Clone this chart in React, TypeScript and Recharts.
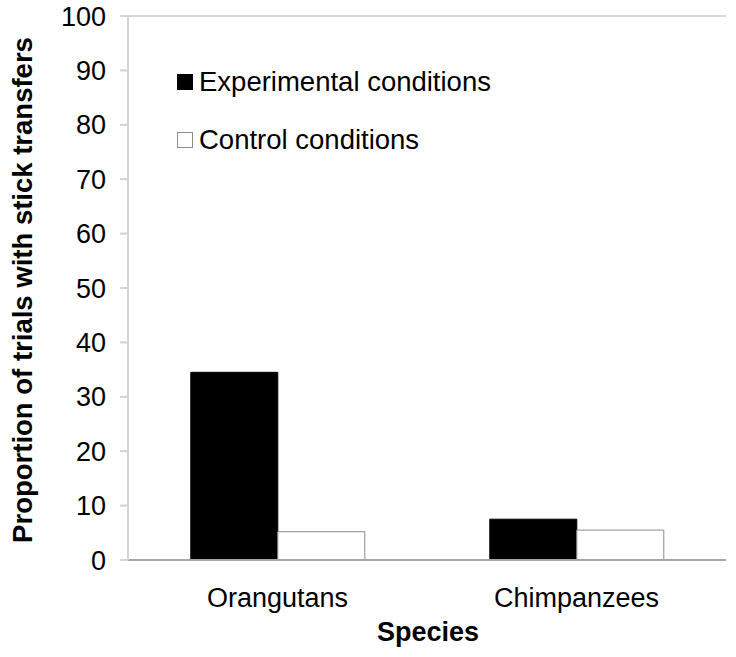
import { Bar, BarChart, Label, Legend, ReferenceLine, XAxis, YAxis } from "recharts";

const species = ["Orangutans", "Chimpanzees"];
const experimental = [34.5, 7.5];
const control = [5.2, 5.5];
const yTicks = [0, 10, 20, 30, 40, 50, 60, 70, 80, 90, 100];
const seriesNames = ["Experimental conditions", "Control conditions"];

const data = species.map((name, i) => ({
  name,
  experimental: experimental[i],
  control: control[i],
}));

const FONT = "'Liberation Sans', Arial, sans-serif";
const AXIS_GRAY = "#a6a6a6";
const BORDER_GRAY = "#d4d4d4";

function LegendBox({ payload }: any) {
  const items = [...(payload ?? [])].sort(
    (a: any, b: any) => seriesNames.indexOf(a.value) - seriesNames.indexOf(b.value)
  );
  return (
    <div style={{ fontFamily: FONT, fontSize: 27.5, color: "#000" }}>
      {items.map((p: any) => (
        <div key={p.value} style={{ display: "flex", alignItems: "center", height: 58 }}>
          <span
            style={{
              display: "inline-block",
              boxSizing: "border-box",
              width: 16,
              height: 16,
              marginRight: 6,
              background: p.payload.fill,
              border: `1px solid ${p.payload.stroke}`,
            }}
          />
          {p.value}
        </div>
      ))}
    </div>
  );
}

export default function App() {
  return (
    <div style={{ position: "absolute", left: 0, top: 0, background: "#fff" }}>
      <BarChart
        width={736}
        height={657}
        data={data}
        margin={{ top: 16, right: 10, left: 0, bottom: 0 }}
        barGap={0}
        barCategoryGap="21%"
      >
        <XAxis
          dataKey="name"
          height={97}
          tickLine={false}
          axisLine={{ stroke: AXIS_GRAY, strokeWidth: 2 }}
          tick={{ fill: "#000", fontSize: 27, fontFamily: FONT }}
          tickMargin={22}
          interval={0}
        >
          <Label
            content={() => (
              <text
                x={428}
                y={632}
                textAnchor="middle"
                dominantBaseline="central"
                fontFamily={FONT}
                fontSize={27}
                fontWeight="bold"
                fill="#000"
              >
                Species
              </text>
            )}
          />
        </XAxis>
        <XAxis
          xAxisId="edges"
          type="number"
          domain={[0, 2]}
          ticks={[0, 1, 2]}
          height={0}
          axisLine={false}
          tick={false}
          tickSize={7}
          tickLine={{ stroke: AXIS_GRAY, strokeWidth: 2 }}
        />
        <YAxis
          width={128}
          domain={[0, 100]}
          ticks={yTicks}
          interval={0}
          tickSize={8}
          tickMargin={14}
          axisLine={{ stroke: BORDER_GRAY, strokeWidth: 2 }}
          tickLine={{ stroke: BORDER_GRAY, strokeWidth: 2 }}
          tick={{ fill: "#000", fontSize: 27, fontFamily: FONT }}
        >
          <Label
            content={() => (
              <text
                x={22}
                y={290}
                transform="rotate(-90 22 290)"
                textAnchor="middle"
                dominantBaseline="central"
                fontFamily={FONT}
                fontSize={27.5}
                fontWeight="bold"
                fill="#000"
              >
                Proportion of trials with stick transfers
              </text>
            )}
          />
        </YAxis>
        <ReferenceLine y={100} stroke={BORDER_GRAY} strokeWidth={2} />
        <ReferenceLine x={2} xAxisId="edges" stroke={BORDER_GRAY} strokeWidth={2} />
        <Legend
          layout="vertical"
          align="center"
          verticalAlign="middle"
          wrapperStyle={{ left: 177, top: 53, width: 420 }}
          content={<LegendBox />}
        />
        <Bar
          dataKey="experimental"
          name={seriesNames[0]}
          fill="#000"
          stroke="#000"
          isAnimationActive={false}
        />
        <Bar
          dataKey="control"
          name={seriesNames[1]}
          fill="#fff"
          stroke="#8c8c8c"
          isAnimationActive={false}
        />
      </BarChart>
    </div>
  );
}
